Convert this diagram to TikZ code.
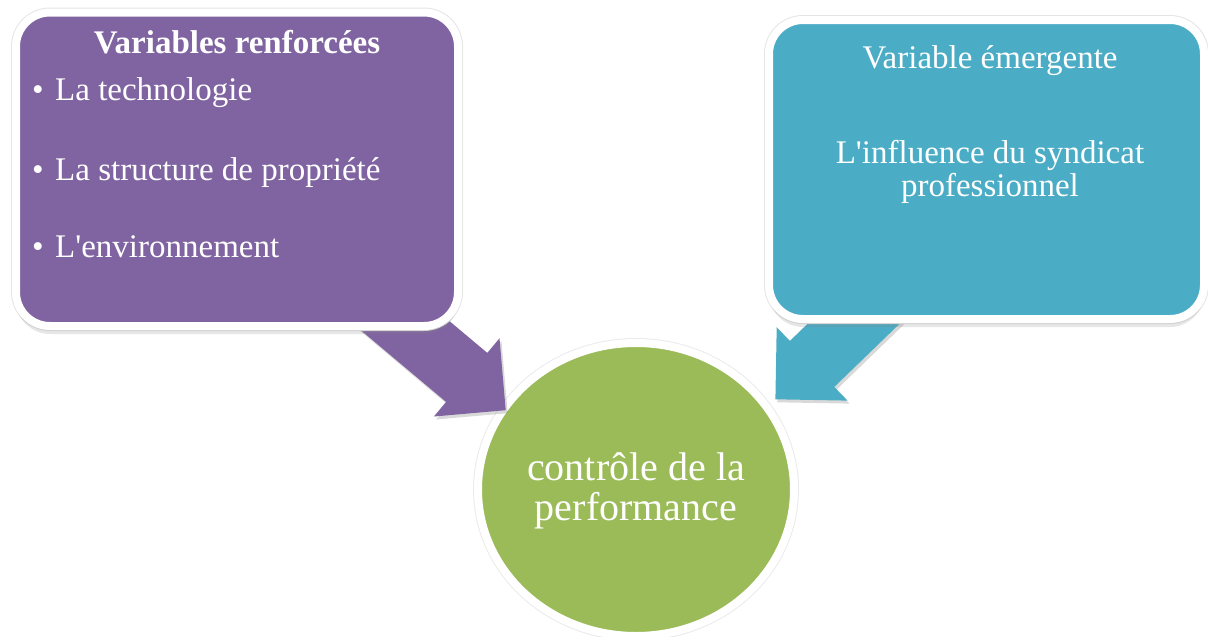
\documentclass[tikz,border=0pt]{standalone}
\usepackage{fontspec}
\setmainfont{Liberation Serif}
\usetikzlibrary{shapes.geometric,shadows}
\definecolor{vpurple}{HTML}{8064A2}
\definecolor{vteal}{HTML}{4BACC6}
\definecolor{vgreen}{HTML}{9BBB59}
\newcommand\straightq{\XeTeXglyph\XeTeXcharglyph"27\relax}
\begin{document}
\begin{tikzpicture}[x=1pt,y=-1pt,
  boxstyle/.style={draw=white, line width=8pt, rounded corners=34pt, inner sep=0pt,
    preaction={draw=black!10, line width=10pt},
    drop shadow={shadow xshift=0pt, shadow yshift=-8pt, opacity=0.2}},
  ballstyle/.style={ellipse, draw=white, line width=8pt, inner sep=0pt, fill=vgreen,
    preaction={draw=black!8, line width=10pt},
    drop shadow={shadow xshift=0pt, shadow yshift=-4pt, opacity=0.12}},
  blockarrow/.style={drop shadow={shadow xshift=2pt, shadow yshift=-3pt, opacity=0.3}},
  txt/.style={text=white, inner sep=0pt, font=\fontsize{33}{40}\selectfont},
  bigtxt/.style={text=white, inner sep=0pt, font=\fontsize{40}{40}\selectfont}
]
\useasboundingbox (0,0) rectangle (1208,637);

% central ellipse
\node[ballstyle, minimum width=316pt, minimum height=293pt] (perf) at (636,489.5) {};
\node[bigtxt, anchor=base] (perf1) at (636,480) {contrôle de la};
\node[bigtxt, anchor=base] (perf2) at (636,520) {performance};

% purple block arrow
\coordinate (pS1) at (331.2,305.4);
\coordinate (pS2) at (372.4,256.4);
\coordinate (pBm) at (487.3,352.9);
\coordinate (pWm) at (499.5,338.3);
\coordinate (pT)  at (505.7,410.2);
\coordinate (pWp) at (433.9,416.5);
\coordinate (pBp) at (446.1,401.9);
\fill[vpurple, blockarrow] (pS2) -- (pBm) -- (pWm) -- (pT) -- (pWp) -- (pBp) -- (pS1) -- cycle;

% teal block arrow
\coordinate (tSm) at (897,237.3);
\coordinate (tBm) at (789.9,340.9);
\coordinate (tWm) at (776.7,327.2);
\coordinate (tT)  at (775.4,399.3);
\coordinate (tWp) at (847.5,400.6);
\coordinate (tBp) at (834.3,386.9);
\coordinate (tSp) at (941.4,283.3);
\fill[vteal, blockarrow] (tSm) -- (tBm) -- (tWm) -- (tT) -- (tWp) -- (tBp) -- (tSp) -- cycle;

% left box
\node[boxstyle, fill=vpurple, minimum width=442pt, minimum height=313.5pt] (left) at (237,169.25) {};
\node[txt, anchor=base, font=\fontsize{33}{40}\selectfont\bfseries] (ltitle) at (237,53) {Variables renforcées};
\node[txt, anchor=base] (b1) at (38,100) {•};
\node[txt, anchor=base west] (l1) at (55,100) {La technologie};
\node[txt, anchor=base] (b2) at (38,180) {•};
\node[txt, anchor=base west] (l2) at (55,180) {La structure de propriété};
\node[txt, anchor=base] (b3) at (38,257) {•};
\node[txt, anchor=base west] (l3) at (55,257) {L\straightq environnement};

% right box
\node[boxstyle, fill=vteal, minimum width=435pt, minimum height=299pt] (right) at (986.5,169.5) {};
\node[txt, anchor=base] (rtitle) at (990,68) {Variable émergente};
\node[txt, anchor=base] (r1) at (990,163) {L\straightq influence du syndicat};
\node[txt, anchor=base] (r2) at (990,196) {professionnel};
\end{tikzpicture}
\end{document}
